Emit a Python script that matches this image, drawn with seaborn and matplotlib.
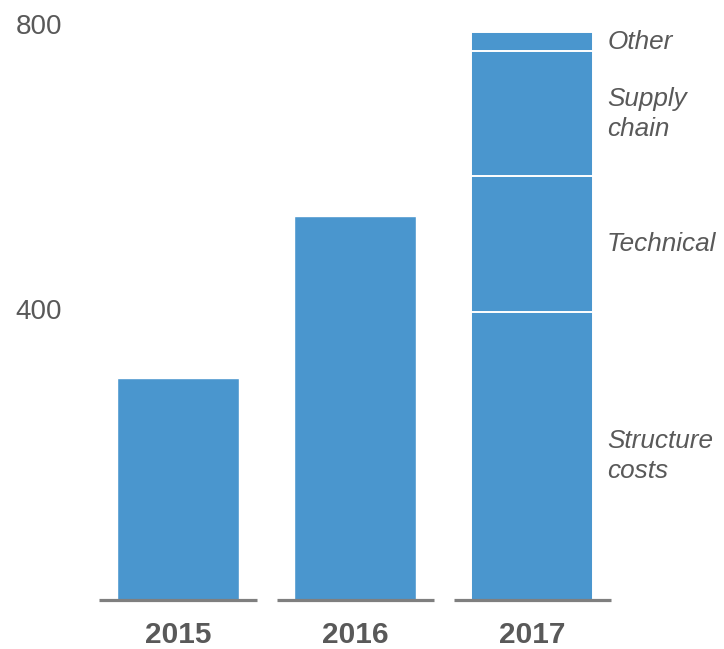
import matplotlib
matplotlib.use("Agg")
import matplotlib.pyplot as plt
import matplotlib.transforms as mtransforms
from matplotlib import font_manager
import numpy as np
import pandas as pd
import seaborn as sns

# Data
years = ["2015", "2016", "2017"]
totals_earlier = [311, 539]                       # 2015, 2016
segments_2017 = ["Structure\ncosts", "Technical", "Supply\nchain", "Other"]
values_2017 = [404, 191, 175, 27]
y_ticks = [400, 800]

BAR_COLOR = "#4A96CE"
TEXT_COLOR = "#595959"
BASE_COLOR = "#7F7F7F"

sns.set_theme(style="white")
plt.rcParams["font.family"] = ["Liberation Sans", "DejaVu Sans"]


def face(style):
    """Regular-width Liberation Sans face in the given style."""
    for f in font_manager.fontManager.ttflist:
        if (f.name == "Liberation Sans" and f.style == style
                and f.weight in (400, "normal", "regular")
                and "Narrow" not in f.fname):
            return f.fname
    return None


LABEL_SIZE = 18.8
italic_path = face("italic")
if italic_path:
    label_font = font_manager.FontProperties(fname=italic_path, size=LABEL_SIZE)
else:
    label_font = font_manager.FontProperties(family="Liberation Sans",
                                             style="italic", size=LABEL_SIZE)

W, H = 724, 649
fig = plt.figure(figsize=(W / 100, H / 100), dpi=100)
ax = fig.add_axes([101 / W, 49 / H, (611 - 101) / W, 600 / H])

bar_width = 0.69

# Stacked 2017 bar: draw cumulative heights from the tallest down
cum_2017 = np.cumsum(values_2017)
for i in range(len(values_2017) - 1, -1, -1):
    df = pd.DataFrame({"year": ["2017"], "value": [cum_2017[i]]})
    sns.barplot(data=df, x="year", y="value", order=years, width=bar_width,
                color=BAR_COLOR, saturation=1, edgecolor="white",
                linewidth=1.4, ax=ax, zorder=2)

# 2015 and 2016 totals
df_early = pd.DataFrame({"year": years[:2], "value": totals_earlier})
sns.barplot(data=df_early, x="year", y="value", order=years, width=bar_width,
            color=BAR_COLOR, saturation=1, edgecolor="white",
            linewidth=1.0, ax=ax, zorder=2)

# Short baseline under each bar
for i in range(len(years)):
    ax.hlines(0, i - 0.4435, i + 0.4435, color=BASE_COLOR, lw=2.3,
              zorder=3, clip_on=False)

ax.set_xlim(-0.435, 2.446)
ax.set_ylim(0, 842.1)
sns.despine(ax=ax, left=True, bottom=True)
ax.set_xlabel("")
ax.set_ylabel("")

ax.set_yticks(y_ticks)
ax.set_yticklabels([str(v) for v in y_ticks], fontsize=20, color=TEXT_COLOR)
ax.tick_params(axis="y", length=0, pad=28)
offset = mtransforms.ScaledTranslation(0, -3 / 72, fig.dpi_scale_trans)
for lab in ax.get_yticklabels():
    lab.set_va("baseline")
    lab.set_transform(lab.get_transform() + offset)

ax.set_xticks(range(len(years)))
ax.set_xticklabels(years, fontsize=21.5, fontweight="bold", color=TEXT_COLOR)
ax.tick_params(axis="x", length=0, pad=15)

# Segment labels beside the 2017 bar
bottoms = np.concatenate([[0], cum_2017[:-1]])
for name, b, v in zip(segments_2017, bottoms, values_2017):
    ax.text(2 + bar_width / 2 + 0.079, b + v / 2, name, ha="left", va="center",
            fontproperties=label_font, color=TEXT_COLOR, linespacing=1.32)

ax.grid(False)
fig.savefig("out.png", dpi=100)
